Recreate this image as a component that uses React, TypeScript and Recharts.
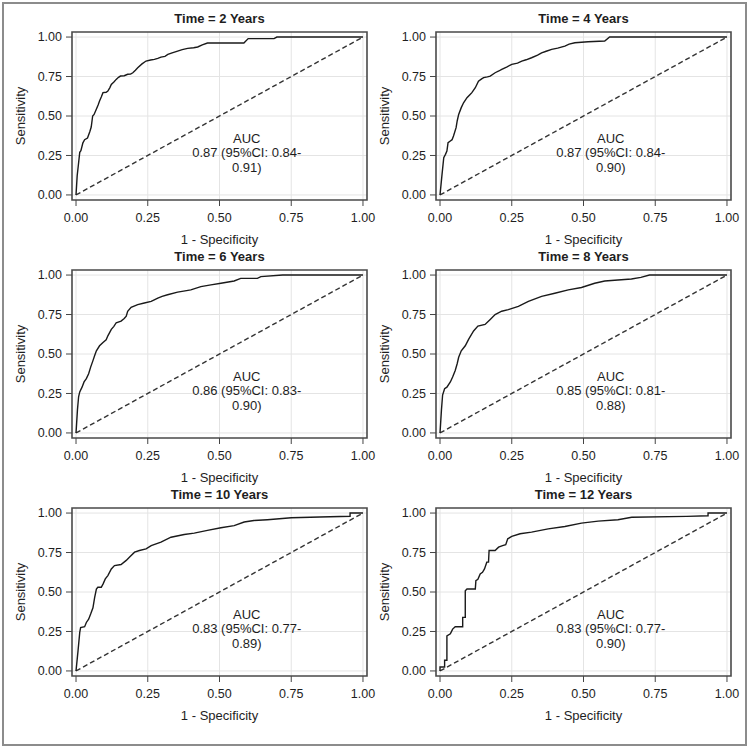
import {
  CartesianGrid,
  Line,
  LineChart,
  ReferenceArea,
  ReferenceDot,
  XAxis,
  YAxis,
} from "recharts";

// ---------------------------------------------------------------------------
// Data
// ---------------------------------------------------------------------------

const YEARS = [2, 4, 6, 8, 10, 12];
const AUC = [0.87, 0.87, 0.86, 0.85, 0.83, 0.83];
const CI_LOW = [0.84, 0.84, 0.83, 0.81, 0.77, 0.77];
const CI_HIGH = [0.91, 0.9, 0.9, 0.88, 0.89, 0.9];

const TICKS = [0, 0.25, 0.5, 0.75, 1];

const DIAG_FPR = [0, 1];
const DIAG_TPR = [0, 1];

const FPR_2Y = [
  0, 0.004, 0.013, 0.017, 0.024, 0.03, 0.04, 0.048, 0.053, 0.058,
  0.063, 0.07, 0.077, 0.082, 0.088, 0.094, 0.105, 0.111, 0.118, 0.123,
  0.132, 0.14, 0.148, 0.155, 0.168, 0.18, 0.19, 0.198, 0.207, 0.215,
  0.23, 0.244, 0.26, 0.273, 0.285, 0.296, 0.31, 0.32, 0.335, 0.354,
  0.37, 0.389, 0.41, 0.424, 0.44, 0.458, 0.5, 0.585, 0.6, 0.69,
  0.7, 1.0,
];
const TPR_2Y = [
  0, 0.12, 0.27, 0.28, 0.33, 0.35, 0.36, 0.4, 0.43, 0.5,
  0.51, 0.54, 0.57, 0.595, 0.62, 0.648, 0.65, 0.658, 0.68, 0.7,
  0.715, 0.732, 0.745, 0.753, 0.755, 0.764, 0.765, 0.774, 0.79, 0.806,
  0.83, 0.848, 0.855, 0.859, 0.865, 0.873, 0.878, 0.89, 0.9, 0.911,
  0.92, 0.928, 0.932, 0.937, 0.95, 0.962, 0.962, 0.962, 0.99, 0.99,
  1.0, 1.0,
];

const FPR_4Y = [
  0, 0.007, 0.013, 0.019, 0.024, 0.028, 0.036, 0.042, 0.047, 0.056,
  0.06, 0.065, 0.074, 0.082, 0.094, 0.104, 0.111, 0.123, 0.134, 0.145,
  0.152, 0.165, 0.175, 0.192, 0.205, 0.215, 0.232, 0.25, 0.27, 0.285,
  0.3, 0.319, 0.34, 0.354, 0.37, 0.389, 0.41, 0.435, 0.45, 0.47,
  0.516, 0.574, 0.591, 1.0,
];
const TPR_4Y = [
  0, 0.13, 0.236, 0.257, 0.278, 0.331, 0.342, 0.35, 0.373, 0.426,
  0.47, 0.51, 0.553, 0.584, 0.616, 0.635, 0.648, 0.679, 0.72, 0.735,
  0.743, 0.748, 0.753, 0.774, 0.785, 0.795, 0.81, 0.827, 0.835, 0.848,
  0.856, 0.869, 0.885, 0.9, 0.91, 0.922, 0.93, 0.943, 0.955, 0.964,
  0.97, 0.975, 1.0, 1.0,
];

const FPR_6Y = [
  0, 0.005, 0.009, 0.013, 0.021, 0.028, 0.036, 0.044, 0.051, 0.059,
  0.065, 0.071, 0.082, 0.094, 0.105, 0.111, 0.123, 0.132, 0.14, 0.157,
  0.168, 0.175, 0.18, 0.192, 0.215, 0.238, 0.262, 0.285, 0.3, 0.319,
  0.354, 0.38, 0.4, 0.435, 0.47, 0.505, 0.551, 0.574, 0.632, 0.644,
  0.72, 1.0,
];
const TPR_6Y = [
  0, 0.146, 0.229, 0.26, 0.29, 0.323, 0.344, 0.375, 0.417, 0.458,
  0.49, 0.52, 0.552, 0.573, 0.59, 0.615, 0.656, 0.675, 0.698, 0.708,
  0.725, 0.74, 0.77, 0.796, 0.8125, 0.823, 0.833, 0.854, 0.865, 0.875,
  0.892, 0.9, 0.906, 0.927, 0.9375, 0.948, 0.9625, 0.979, 0.979, 0.99,
  1.0, 1.0,
];

const FPR_8Y = [
  0, 0.005, 0.009, 0.016, 0.024, 0.036, 0.044, 0.053, 0.06, 0.065,
  0.074, 0.088, 0.1, 0.117, 0.132, 0.157, 0.175, 0.192, 0.215, 0.238,
  0.273, 0.308, 0.354, 0.4, 0.447, 0.493, 0.539, 0.574, 0.62, 0.667,
  0.7, 0.73, 1.0,
];
const TPR_8Y = [
  0, 0.146, 0.24, 0.28, 0.29, 0.323, 0.354, 0.396, 0.44, 0.479,
  0.52, 0.552, 0.594, 0.646, 0.677, 0.6875, 0.719, 0.75, 0.771, 0.781,
  0.802, 0.833, 0.865, 0.885, 0.906, 0.921, 0.948, 0.9625, 0.969, 0.975,
  0.985, 1.0, 1.0,
];

const FPR_10Y = [
  0, 0.007, 0.013, 0.016, 0.03, 0.036, 0.044, 0.051, 0.059, 0.065,
  0.071, 0.076, 0.088, 0.094, 0.102, 0.111, 0.123, 0.134, 0.157, 0.175,
  0.186, 0.204, 0.221, 0.244, 0.262, 0.296, 0.331, 0.377, 0.412, 0.458,
  0.505, 0.551, 0.586, 0.62, 0.667, 0.75, 0.85, 0.955, 0.955, 1.0,
];
const TPR_10Y = [
  0, 0.127, 0.244, 0.275, 0.28, 0.307, 0.328, 0.36, 0.4, 0.466,
  0.519, 0.53, 0.53, 0.55, 0.583, 0.604, 0.646, 0.667, 0.674, 0.7,
  0.72, 0.752, 0.763, 0.773, 0.794, 0.816, 0.847, 0.864, 0.873, 0.89,
  0.907, 0.92, 0.943, 0.953, 0.958, 0.97, 0.975, 0.98, 1.0, 1.0,
];

const FPR_12Y = [
  0, 0, 0.016, 0.016, 0.024, 0.024, 0.036, 0.044, 0.053, 0.079,
  0.079, 0.088, 0.088, 0.094, 0.123, 0.125, 0.132, 0.14, 0.148, 0.155,
  0.163, 0.169, 0.171, 0.192, 0.204, 0.218, 0.229, 0.236, 0.25, 0.279,
  0.319, 0.377, 0.435, 0.493, 0.551, 0.62, 0.668, 0.86, 0.934, 0.934,
  1.0,
];
const TPR_12Y = [
  0, 0.025, 0.025, 0.068, 0.068, 0.222, 0.235, 0.265, 0.28, 0.28,
  0.339, 0.339, 0.508, 0.519, 0.519, 0.572, 0.58, 0.614, 0.625, 0.646,
  0.689, 0.689, 0.763, 0.763, 0.784, 0.794, 0.8, 0.837, 0.852, 0.869,
  0.879, 0.9, 0.915, 0.936, 0.949, 0.958, 0.973, 0.979, 0.983, 1.0,
  1.0,
];

const FPR = [FPR_2Y, FPR_4Y, FPR_6Y, FPR_8Y, FPR_10Y, FPR_12Y];
const TPR = [TPR_2Y, TPR_4Y, TPR_6Y, TPR_8Y, TPR_10Y, TPR_12Y];

// ---------------------------------------------------------------------------
// Layout / style
// ---------------------------------------------------------------------------

const FONT = '"Liberation Sans", Arial, Helvetica, sans-serif';
const TEXT = "#1e1e1e";
const X_DOMAIN: [number, number] = [-0.014, 1.014];
const Y_DOMAIN: [number, number] = [-0.032, 1.032];

const CHART_W = 385;
const CHART_H = 250;
const COL_STEP = 364;
const ROW_STEP = 238;
const Y_AXIS_W = 72;
const X_AXIS_H = 46;
const MARGIN = { top: 32, right: 18, bottom: 4, left: 0 };

const toPoints = (xs: number[], ys: number[]) =>
  xs.map((x, i) => ({ fpr: x, tpr: ys[i] }));

function AucText(props: any) {
  const { viewBox, lines } = props;
  const cx = viewBox.x + (viewBox.width || 0) / 2;
  const cy = viewBox.y + (viewBox.height || 0) / 2;
  return (
    <text
      x={cx}
      y={cy}
      textAnchor="middle"
      fill={TEXT}
      fontSize={13}
      fontFamily={FONT}
    >
      {lines.map((l: string, i: number) => (
        <tspan key={i} x={cx} dy={i === 0 ? 4.6 : 14.4}>
          {l}
        </tspan>
      ))}
    </text>
  );
}

function RocPanel({ idx }: { idx: number }) {
  const col = idx % 2;
  const row = Math.floor(idx / 2);
  const left = col * COL_STEP;
  const top = row * ROW_STEP;
  const curve = toPoints(FPR[idx], TPR[idx]);
  const diag = toPoints(DIAG_FPR, DIAG_TPR);
  const lines = [
    "AUC",
    `${AUC[idx].toFixed(2)} (95%CI: ${CI_LOW[idx].toFixed(2)}-`,
    `${CI_HIGH[idx].toFixed(2)})`,
  ];
  const tickStyle = { fill: TEXT, fontSize: 12.5, fontFamily: FONT };

  return (
    <div style={{ position: "absolute", left, top, width: CHART_W, height: CHART_H }}>
      <div
        style={{
          position: "absolute",
          left: Y_AXIS_W,
          top: 10,
          width: CHART_W - Y_AXIS_W - MARGIN.right,
          textAlign: "center",
          fontSize: 13,
          lineHeight: "17px",
          fontWeight: "bold",
          color: TEXT,
          fontFamily: FONT,
        }}
      >
        Time = {YEARS[idx]} Years
      </div>
      <LineChart width={CHART_W} height={CHART_H} margin={MARGIN}>
        <CartesianGrid stroke="#e4e4e4" strokeWidth={1} syncWithTicks />
        <XAxis
          type="number"
          dataKey="fpr"
          domain={X_DOMAIN}
          ticks={TICKS}
          interval={0}
          allowDataOverflow
          height={X_AXIS_H}
          axisLine={false}
          tickLine={{ stroke: "#444" }}
          tickSize={6}
          tickMargin={7}
          tick={tickStyle}
          tickFormatter={(v: number) => v.toFixed(2)}
          label={{
            value: "1 - Specificity",
            position: "insideBottom",
            offset: 2.5,
            style: { fill: TEXT, fontSize: 13, fontFamily: FONT },
          }}
        />
        <YAxis
          type="number"
          dataKey="tpr"
          domain={Y_DOMAIN}
          ticks={TICKS}
          interval={0}
          allowDataOverflow
          width={Y_AXIS_W}
          axisLine={false}
          tickLine={{ stroke: "#444" }}
          tickSize={6}
          tickMargin={4}
          tick={tickStyle}
          tickFormatter={(v: number) => v.toFixed(2)}
          label={{
            value: "Sensitivity",
            angle: -90,
            position: "insideLeft",
            offset: 20,
            style: { textAnchor: "middle", fill: TEXT, fontSize: 13, fontFamily: FONT },
          }}
        />
        <Line
          data={diag}
          dataKey="tpr"
          type="linear"
          stroke="#333"
          strokeWidth={1.4}
          strokeDasharray="5 3"
          dot={false}
          activeDot={false}
          isAnimationActive={false}
        />
        <Line
          data={curve}
          dataKey="tpr"
          type="linear"
          stroke="#1a1a1a"
          strokeWidth={1.4}
          dot={false}
          activeDot={false}
          isAnimationActive={false}
        />
        <ReferenceArea
          x1={X_DOMAIN[0]}
          x2={X_DOMAIN[1]}
          y1={Y_DOMAIN[0]}
          y2={Y_DOMAIN[1]}
          fill="none"
          stroke="#4a4a4a"
          strokeWidth={1.6}
          ifOverflow="visible"
        />
        <ReferenceDot
          x={0.595}
          y={0.36}
          r={0}
          fill="none"
          stroke="none"
          label={(p: any) => <AucText {...p} lines={lines} />}
        />
      </LineChart>
    </div>
  );
}

export default function App() {
  return (
    <div
      style={{
        position: "absolute",
        left: 0,
        top: 0,
        width: 750,
        height: 750,
        background: "#fff",
        fontFamily: FONT,
      }}
    >
      <div
        style={{
          position: "absolute",
          left: 2,
          top: 2,
          width: 741,
          height: 740,
          border: "2px solid #8c8c8c",
        }}
      />
      {YEARS.map((_y, i) => (
        <RocPanel key={i} idx={i} />
      ))}
    </div>
  );
}
